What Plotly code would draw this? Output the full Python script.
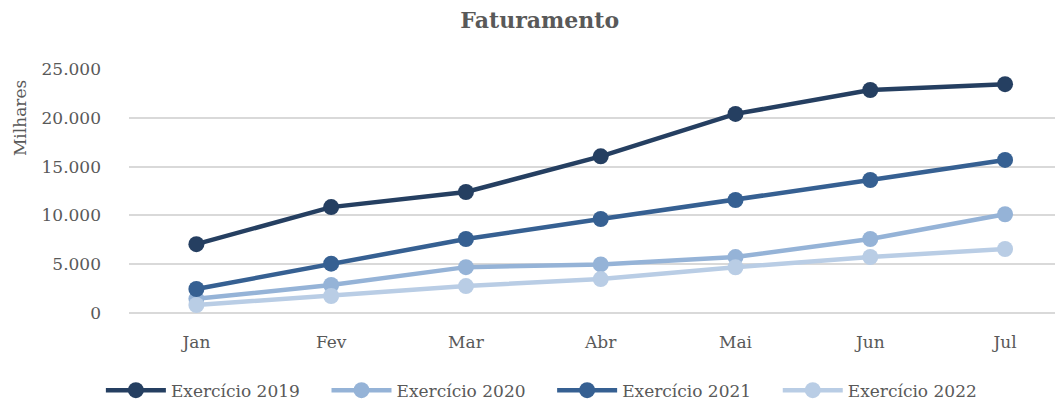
import plotly.graph_objects as go

months = ["Jan", "Fev", "Mar", "Abr", "Mai", "Jun", "Jul"]
series_names = ["Exercício 2019", "Exercício 2020", "Exercício 2021", "Exercício 2022"]
v2019 = [7050, 10850, 12400, 16050, 20400, 22850, 23450]
v2020 = [1450, 2870, 4700, 4980, 5730, 7580, 10120]
v2021 = [2460, 5050, 7580, 9630, 11580, 13630, 15680]
v2022 = [820, 1740, 2760, 3480, 4690, 5740, 6560]
colors = ["#253F61", "#95B3D7", "#366092", "#B9CDE5"]

FONT = "DejaVu Serif"
GREY = "#595959"
PAD = "\u00a0" * 4

fig = go.Figure()
for name, vals, c in zip(series_names, [v2019, v2020, v2021, v2022], colors):
    fig.add_trace(go.Scatter(
        x=months, y=vals, name=name + PAD, mode="lines+markers",
        line=dict(color=c, width=4.5),
        marker=dict(color=c, size=16),
    ))

fig.add_annotation(text="Milhares", xref="paper", yref="paper", x=-0.1167, y=0.799,
                   xanchor="center", yanchor="middle", textangle=-90, showarrow=False,
                   font=dict(family=FONT, size=17, color=GREY))

fig.update_layout(
    width=1055, height=394,
    paper_bgcolor="white", plot_bgcolor="white",
    margin=dict(l=121, r=0, t=61, b=89, autoexpand=False),
    separators=",.",
    font=dict(family=FONT, color=GREY, size=17),
    title=dict(text="<b>Faturamento</b>", x=0.504, xanchor="center", xref="container",
               y=0.9695, yanchor="middle",
               font=dict(family=FONT, size=22, color=GREY)),
    showlegend=True,
    legend=dict(orientation="h", xref="container", x=0.516, xanchor="center",
                y=-0.318, yanchor="middle",
                font=dict(family=FONT, size=17, color=GREY), itemwidth=60,
                tracegroupgap=0),
    xaxis=dict(type="category", range=[-0.5, 6.43], showgrid=False, showline=False,
               automargin=False, ticks="", ticklabelstandoff=17,
               tickfont=dict(family=FONT, size=17, color=GREY), fixedrange=True),
    yaxis=dict(range=[0, 25000], dtick=5000, tickformat=",d", showgrid=True,
               automargin=False,
               gridcolor="#D9D9D9", gridwidth=1.5, zeroline=True, zerolinecolor="#D9D9D9",
               zerolinewidth=1.5, showline=False, ticks="", ticklabelstandoff=27,
               tickfont=dict(family=FONT, size=17, color=GREY)),
)

fig.write_html("out.html")
